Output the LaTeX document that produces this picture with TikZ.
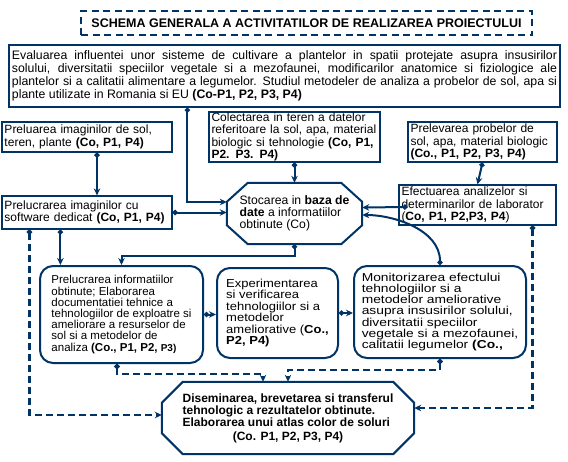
\documentclass[tikz,border=0pt]{standalone}
\usepackage{fontspec}
\setmainfont{Liberation Sans}
\newfontfamily\widesf[FakeStretch=1.12]{Liberation Sans}
\newfontfamily\widersf[FakeStretch=1.2]{Liberation Sans}
\usetikzlibrary{arrows.meta}
\definecolor{navy}{RGB}{0,51,102}

% contur octogonal in jurul unui nod: nod, taietura x, taietura y
\newcommand{\octcontur}[3]{%
  \draw[navy, line width=2pt] ([xshift=#2]#1.north west) -- ([xshift=-#2]#1.north east)
    -- ([yshift=-#3]#1.north east) -- ([yshift=#3]#1.south east)
    -- ([xshift=-#2]#1.south east) -- ([xshift=#2]#1.south west)
    -- ([yshift=#3]#1.south west) -- ([yshift=-#3]#1.north west) -- cycle;}

\tikzset{
  titlebox/.style={draw=navy, line width=2.6pt, dash pattern=on 7pt off 4.5pt, inner sep=0pt,
    font=\bfseries\fontsize{12.5}{14}\selectfont},
  recbox/.style={draw=navy, line width=1.2pt, inner xsep=2.5pt, inner ysep=1pt, align=left,
    font=\fontsize{12}{12.7}\selectfont},
  rndbox/.style={draw=navy, line width=2pt, rounded corners=13pt, inner sep=0pt, align=left},
  octbox/.style={inner sep=0pt, align=left},
  link/.style={navy, line width=2pt, {Circle[length=5pt]}-{Stealth[length=7pt,width=6.5pt]}},
  dashlink/.style={link, line width=2.6pt, dash pattern=on 7pt off 4pt},
}

\begin{document}
\begin{tikzpicture}[x=1pt, y=-1pt]
\useasboundingbox (0,0) rectangle (568,461);

% titlu
\node[titlebox, minimum width=451pt, minimum height=24pt] (titlu) at (306.5,23)
  {SCHEMA GENERALA A ACTIVITATILOR DE REALIZAREA PROIECTULUI};

% casete dreptunghiulare
\node[recbox, minimum width=551pt, minimum height=62pt, text width=545pt, align=justify,
  font=\fontsize{12.3}{13}\selectfont] (evaluare) at (284.5,76)
  {Evaluarea influentei unor sisteme de cultivare a plantelor in spatii protejate asupra insusirilor\linebreak
   solului, diversitatii speciilor vegetale si a mezofaunei, modificarilor anatomice si fiziologice ale\linebreak
   plantelor si a calitatii alimentare a legumelor. Studiul metodeler de analiza a probelor de sol, apa si\linebreak
   plante utilizate in Romania si EU \textbf{(Co-P1, P2, P3, P4)}};
\node[recbox, minimum width=170pt, minimum height=30pt, text width=165pt] (preluare) at (87,137)
  {Preluarea imaginilor de sol,\\ teren, plante \textbf{(Co, P1, P4)}};
\node[recbox, minimum width=171pt, minimum height=50pt, text width=166pt,
  font=\fontsize{12}{12.3}\selectfont] (colectare) at (294.5,137)
  {Colectarea in teren a datelor\\ referitoare la sol, apa, material\\ biologic si tehnologie \textbf{(Co, P1,}\\ \textbf{P2. P3. P4)}};
\node[recbox, minimum width=149pt, minimum height=40pt, text width=144pt] (prelevare) at (482.5,142)
  {Prelevarea probelor de\\ sol, apa, material biologic\\ \textbf{(Co., P1, P2, P3, P4)}};
\node[recbox, minimum width=170pt, minimum height=33pt, text width=165pt] (prelimg) at (87,212.5)
  {Prelucrarea imaginilor cu\\ software dedicat \textbf{(Co, P1, P4)}};
\node[recbox, minimum width=157pt, minimum height=40pt, text width=152pt] (efectuare) at (477.5,205)
  {Efectuarea analizelor si\\ determinarilor de laborator\\ (\textbf{Co, P1, P2,P3, P4})};

% baza de date
\node[octbox, minimum width=135pt, minimum height=61pt, font=\fontsize{12.2}{11.7}\selectfont] (stocare) at (294.5,213.5)
  {Stocarea in \textbf{baza de}\\ \textbf{date} a informatiilor\\ obtinute (Co)};
\octcontur{stocare}{21pt}{19pt}

% casete rotunjite
\node[rndbox, minimum width=163pt, minimum height=97pt, font=\fontsize{11.5}{11.2}\selectfont] (prelinfo) at (121.5,314.5)
  {Prelucrarea informatiilor\\ obtinute; Elaborarea\\ documentatiei tehnice a\\ tehnologiilor de exploatre si\\
   ameliorare a resurselor de\\ sol si a metodelor de\\ analiza \textbf{(Co., P1, P2,} {\fontsize{10}{11}\selectfont\bfseries P3)}};
\node[rndbox, minimum width=121pt, minimum height=90pt, font=\widesf\fontsize{11.6}{11.5}\selectfont] (experiment) at (277.5,313)
  {Experimentarea\\ si verificarea\\ tehnologiilor si a\\ metodelor\\ ameliorative (\textbf{Co.,}\\ \textbf{P2, P4)}};
\node[rndbox, minimum width=172pt, minimum height=92pt, font=\widersf\fontsize{11.5}{11.3}\selectfont] (monitor) at (440,312)
  {Monitorizarea efectului\\ tehnologiilor si a\\ metodelor ameliorative\\ asupra insusirilor solului,\\
   diversitatii speciilor\\ vegetale si a mezofaunei,\\ calitatii legumelor \textbf{(Co.,}};

% diseminare
\node[octbox, minimum width=252pt, minimum height=72pt, align=center,
  font=\bfseries\fontsize{12}{11.2}\selectfont] (disem) at (288,418)
  {\begin{tabular}{@{}l@{}}Diseminarea, brevetarea si transferul\\ tehnologic a rezultatelor obtinute.\\
   Elaborarea unui atlas color de soluri\end{tabular}\\[1pt] (Co. P1, P2, P3, P4)};
\octcontur{disem}{21pt}{21pt}

% legaturi
\draw[link] ([xshift=179pt]evaluare.south west) |- ([yshift=11.5pt]stocare.west);
\draw[link] ([xshift=10pt]preluare.south) -- ([xshift=10pt]prelimg.north);
\draw[link] (prelimg.east) -- (prelimg.east -| stocare.west);
\draw[link] (colectare.south) -- (stocare.north);
\draw[link] (prelevare.south) -- (efectuare.north);
\draw[link] ([xshift=9pt,yshift=-2pt]efectuare.west) -- ([yshift=6pt]stocare.east);
\draw[link] (monitor.north) .. controls +(0,-35) and +(32,0) .. ([yshift=-1.5pt]stocare.east);
\draw[link] ([xshift=59pt]prelimg.south west) -- ([xshift=59pt]prelimg.south west |- prelinfo.north);
\draw[link] (stocare.south) -- ([yshift=-12pt]stocare.south) -| (prelinfo.north);
\draw[link] (prelinfo.east) -- (prelinfo.east -| experiment.west);
\draw[link] (experiment.east) -- (experiment.east -| monitor.west);

\draw[dashlink] ([xshift=28pt]prelimg.south west) |- ([yshift=3pt]disem.west);
\draw[dashlink] ([xshift=-24pt]efectuare.south east) |- ([yshift=10pt]disem.east);
\draw[dashlink] ([xshift=-4.5pt]prelinfo.south) -- ([xshift=-4.5pt,yshift=-10pt]prelinfo.south) -| ([xshift=-25pt]disem.north);
\draw[dashlink] (monitor.south) -- ([yshift=-11pt]monitor.south) -| (disem.north);
\end{tikzpicture}
\end{document}
